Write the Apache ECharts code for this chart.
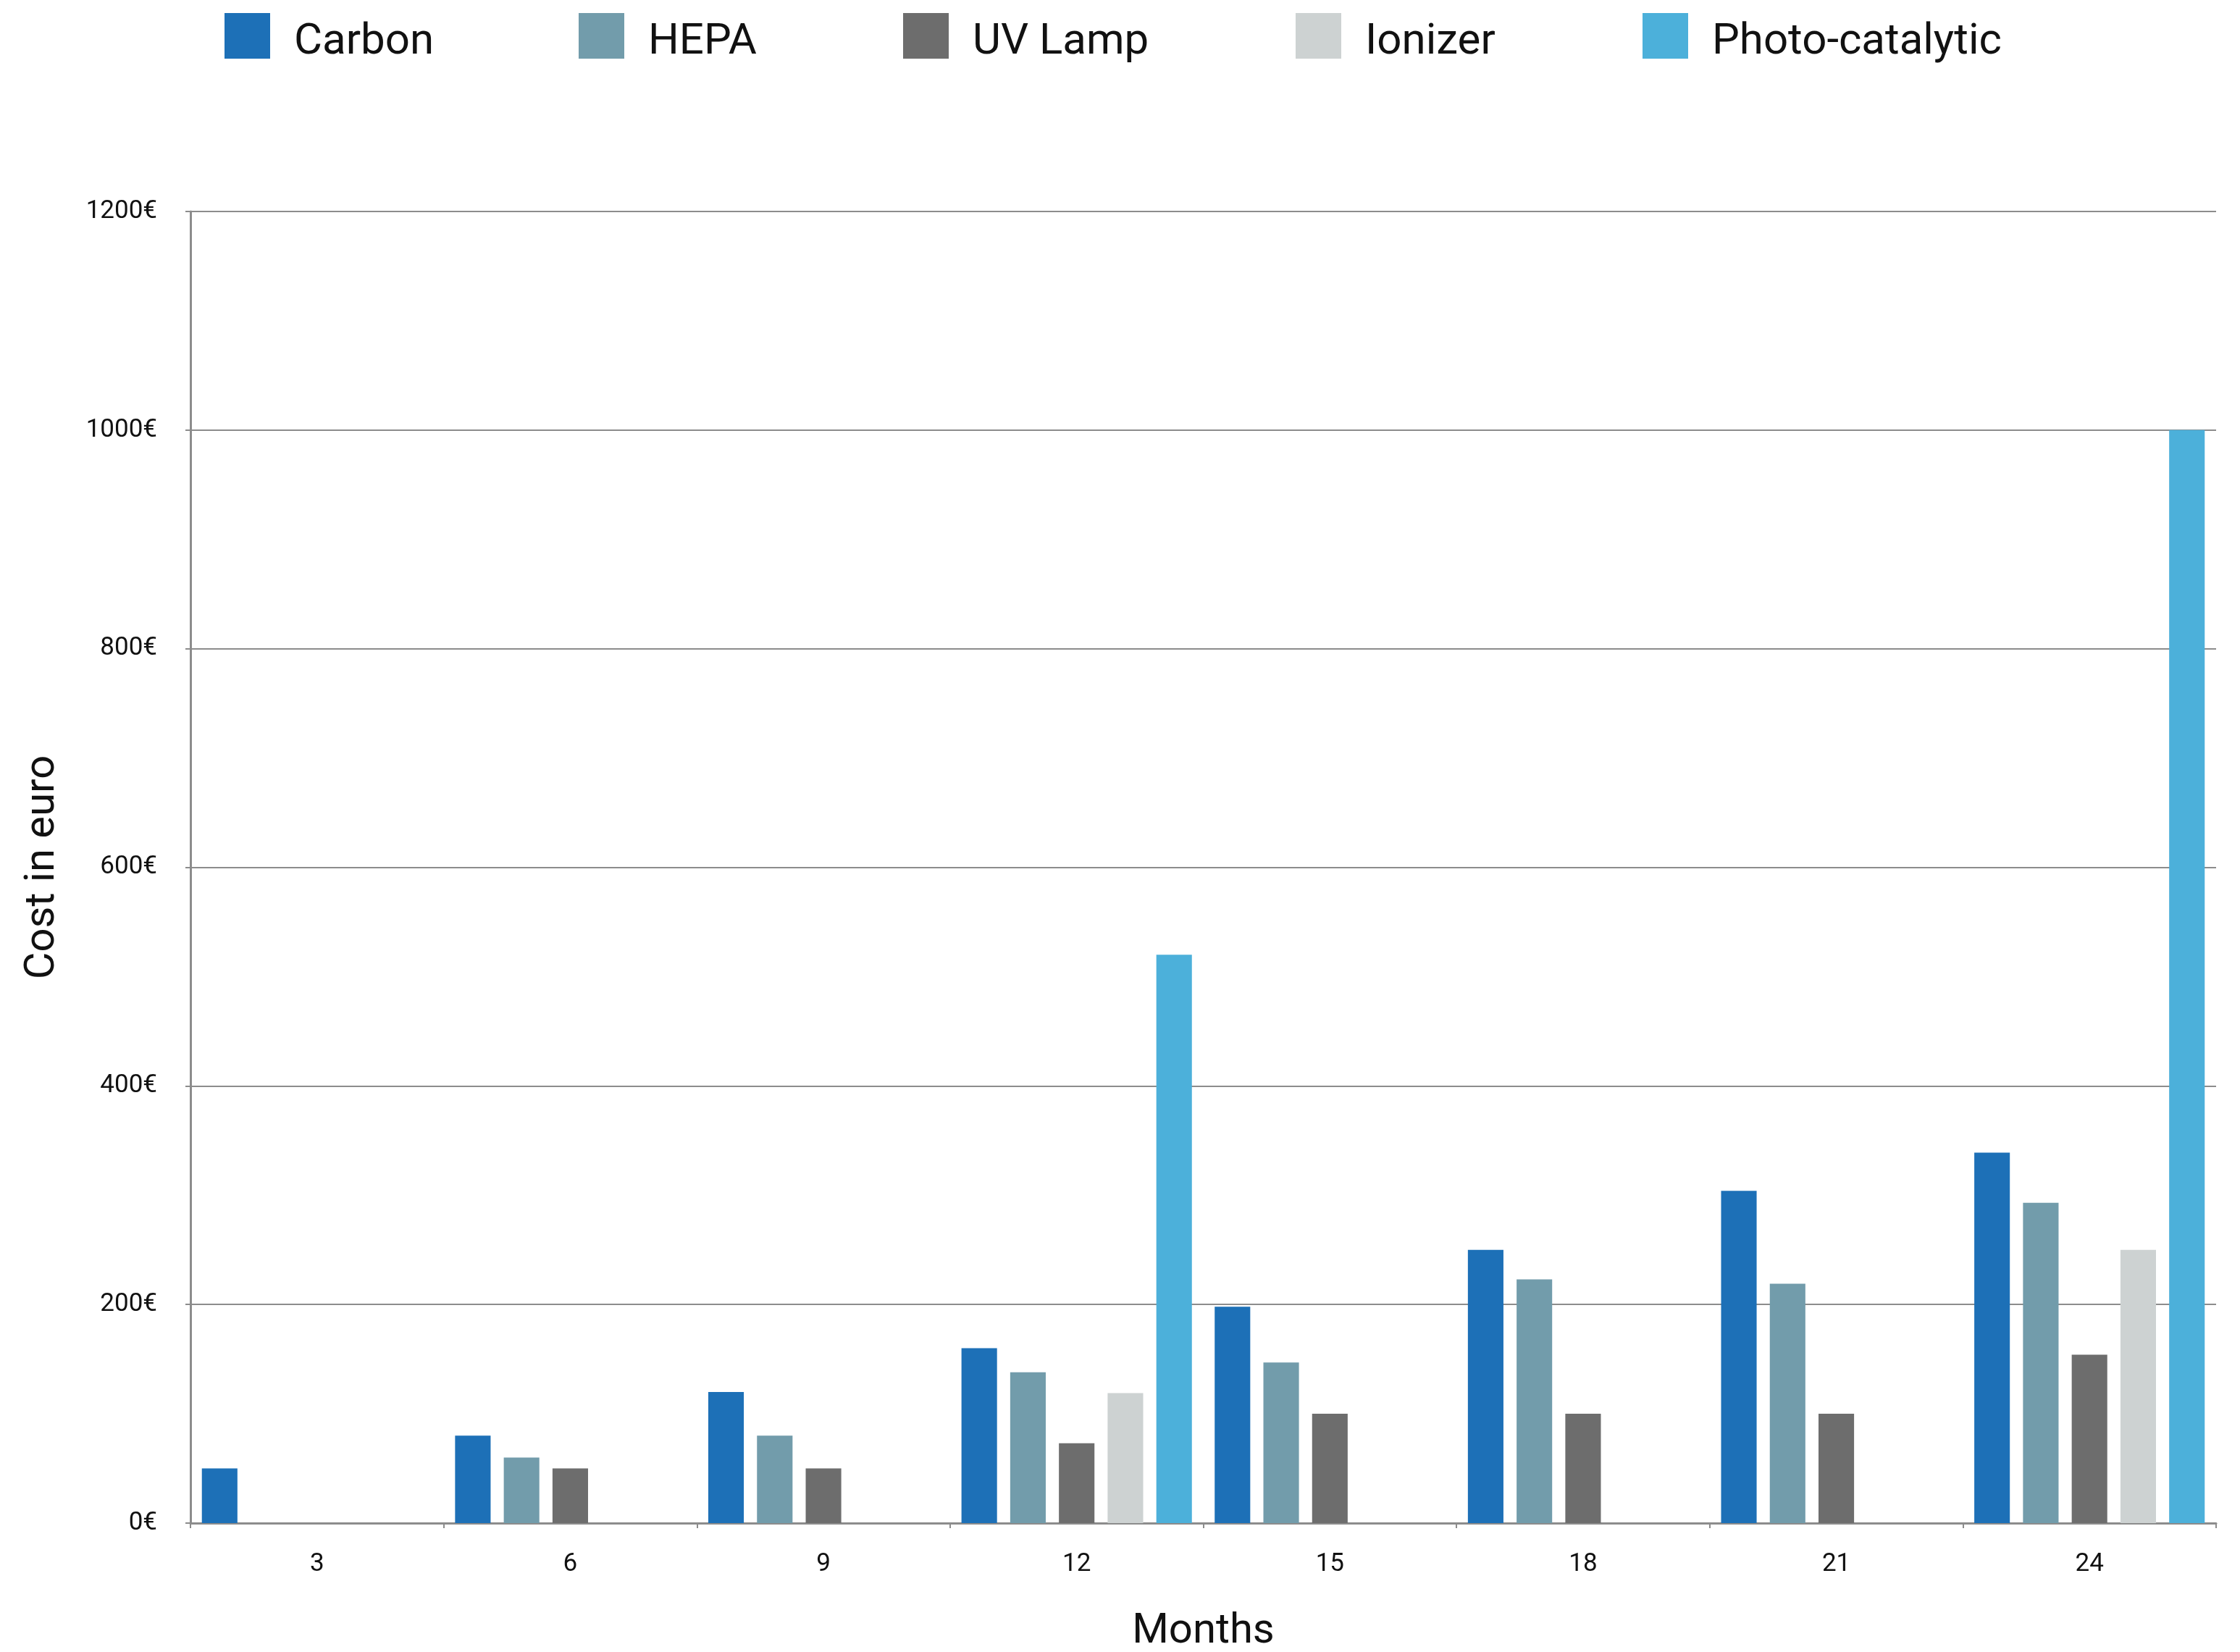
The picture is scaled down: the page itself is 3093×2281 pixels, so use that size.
<!DOCTYPE html>
<html>
<head>
<meta charset="utf-8">
<script src="https://cdn.jsdelivr.net/npm/echarts@6/dist/echarts.min.js"></script>
<style>
html,body{margin:0;padding:0;background:#fff;}
#chart{width:3093px;height:2281px;}
</style>
</head>
<body>
<div id="chart"></div>
<script>
var months = ['3', '6', '9', '12', '15', '18', '21', '24'];
var seriesNames = ['Carbon', 'HEPA', 'UV Lamp', 'Ionizer', 'Photo-catalytic'];
var carbon = [50, 80, 120, 160, 198, 250, 304, 339];
var hepa = [null, 60, 80, 138, 147, 223, 219, 293];
var uvLamp = [null, 50, 50, 73, 100, 100, 100, 154];
var ionizer = [null, null, null, 119, null, null, null, 250];
var photo = [null, null, null, 520, null, null, null, 1000];
var yTicks = [0, 200, 400, 600, 800, 1000, 1200];

var colors = ['#1d70b7', '#729cab', '#6d6d6d', '#cdd2d2', '#4cb0da'];
var legendLeft = [310, 799, 1247, 1789, 2268];
var FONT = 'Roboto';

var chart = echarts.init(document.getElementById('chart'), null, {renderer: 'canvas'});

var legends = seriesNames.map(function (n, i) {
  return {
    data: [n],
    left: legendLeft[i],
    top: 18,
    padding: 0,
    itemWidth: 63,
    itemHeight: 63,
    icon: 'rect',
    selectedMode: false,
    formatter: function (name) { return '{t|' + name + '}'; },
    textStyle: {
      fontFamily: FONT, fontSize: 60, color: '#111', padding: [0, 0, 0, 28],
      rich: {t: {fontFamily: FONT, fontSize: 60, color: '#111', padding: [18, 0, 0, 0]}}
    }
  };
});

var allData = [carbon, hepa, uvLamp, ionizer, photo];
var series = seriesNames.map(function (n, i) {
  return {
    name: n,
    type: 'bar',
    data: allData[i],
    barGap: '37%',
    barCategoryGap: '9%',
    itemStyle: {color: colors[i]},
    emphasis: {disabled: true}
  };
});

chart.setOption({
  animation: false,
  backgroundColor: '#ffffff',
  color: colors,
  legend: legends,
  grid: {left: 263, right: 33, top: 292, bottom: 178, containLabel: false, outerBoundsMode: 'none'},
  xAxis: {
    type: 'category',
    data: months,
    name: 'Months',
    nameLocation: 'middle',
    nameGap: 121,
    nameTextStyle: {fontFamily: FONT, fontSize: 58, color: '#111'},
    axisLine: {lineStyle: {color: '#8c8c8c', width: 3}},
    axisTick: {show: true, length: 7, lineStyle: {color: '#8c8c8c', width: 2}},
    axisLabel: {fontFamily: FONT, fontSize: 35, color: '#111', margin: 40}
  },
  yAxis: {
    type: 'value',
    min: yTicks[0],
    max: yTicks[yTicks.length - 1],
    interval: 200,
    name: 'Cost in euro',
    nameLocation: 'middle',
    nameGap: 175,
    nameTextStyle: {fontFamily: FONT, fontSize: 58, color: '#111'},
    axisLine: {show: true, lineStyle: {color: '#8c8c8c', width: 3}},
    axisTick: {show: true, length: 7, lineStyle: {color: '#8c8c8c', width: 2}},
    axisLabel: {fontFamily: FONT, fontSize: 35, color: '#111', margin: 46,
      formatter: function (v) { return String(v) + '€'; }},
    splitLine: {show: true, lineStyle: {color: '#8c8c8c', width: 2}}
  },
  series: series
});
</script>
</body>
</html>
